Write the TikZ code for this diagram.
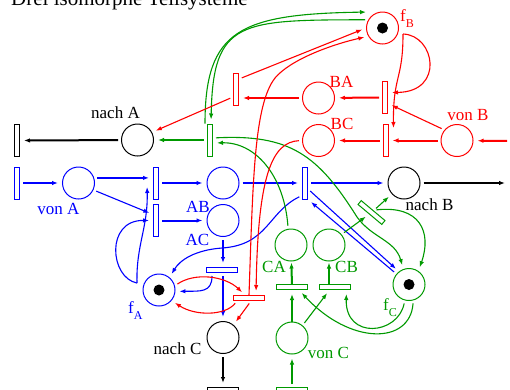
\documentclass[tikz,border=0pt]{standalone}
\usepackage{fontspec}
\setmainfont{Liberation Serif}
\usepackage{tikz}
\usetikzlibrary{arrows.meta}

\definecolor{gruen}{RGB}{0,153,0}
\newcommand{\fsub}[1]{f\raisebox{-6pt}{\fontsize{12}{12}\selectfont #1}}

\begin{document}
\begin{tikzpicture}[x=1pt,y=-1pt,
    stelle/.style={circle,draw,line width=1pt,minimum size=32pt,inner sep=0pt},
    marke/.style={circle,fill=black,inner sep=0pt,minimum size=11pt},
    tv/.style={rectangle,draw,fill=white,line width=1pt,minimum width=5pt,minimum height=32pt,inner sep=0pt},
    th/.style={rectangle,draw,fill=white,line width=1pt,minimum width=31pt,minimum height=5pt,inner sep=0pt},
    pf/.style={-{Latex[length=6pt,width=4.5pt]},line width=1.1pt,shorten >=4pt,shorten <=3pt},
    pfd/.style={pf,line width=2pt},
    txt/.style={anchor=base,font=\fontsize{17}{19}\selectfont,inner sep=0pt}]
      \useasboundingbox (0,0) rectangle (510,389);

      % タイトル
      \node[anchor=base west,font=\fontsize{21}{24}\selectfont,inner sep=0pt] (titel) at (11,5) {Drei isomorphe Teilsysteme};

      % 黒
      \node[tv] (tSA) at (17,140.5) {};
      \node[stelle] (nachA) at (137.5,140) {};
      \node[stelle] (nachB) at (404,183) {};
      \node[stelle] (nachC) at (223,337.5) {};
      \node[th] (tEB) at (223,390) {};
      \coordinate (ausB) at (509,183);

      % 青
      \node[tv,draw=blue] (tvA) at (17,183) {};
      \node[stelle,draw=blue] (vonA) at (78.5,183) {};
      \node[tv,draw=blue] (tAB) at (156,183) {};
      \node[tv,draw=blue] (tAC) at (156,220.5) {};
      \node[stelle,draw=blue] (AB) at (223,183) {};
      \node[stelle,draw=blue] (AC) at (223,220.5) {};
      \node[tv,draw=blue] (tB) at (305,183) {};
      \node[th,draw=blue] (tCb) at (222,270) {};
      \node[stelle,draw=blue] (fA) at (159,290) {};
      \node[marke] (mA) at (fA) {};
      \coordinate (fAaus) at (137,283);

      % 赤
      \node[stelle,draw=red] (fB) at (382.5,28) {};
      \node[marke] (mB) at (fB) {};
      \node[stelle,draw=red] (vonB) at (457,140.5) {};
      \node[tv,draw=red] (tBA) at (385,97.5) {};
      \node[tv,draw=red] (tBC) at (385.5,140.5) {};
      \node[stelle,draw=red] (BA) at (318.5,98) {};
      \node[stelle,draw=red] (BC) at (318.5,140.5) {};
      \node[tv,draw=red] (tAr) at (236,89.5) {};
      \node[th,draw=red] (tCr) at (249,298) {};
      \coordinate (einB) at (510,141);
      \coordinate (fBaus) at (403,34);

      % 緑
      \node[tv,draw=gruen] (tAg) at (210,140) {};
      \node[stelle,draw=gruen] (CA) at (291,245) {};
      \node[stelle,draw=gruen] (CB) at (329,245) {};
      \node[th,draw=gruen] (tCA) at (292,287) {};
      \node[th,draw=gruen] (tCB) at (334.5,287) {};
      \node[stelle,draw=gruen] (vonC) at (292,338) {};
      \node[th,draw=gruen] (tvC) at (292,390) {};
      \node[th,draw=gruen,rotate=-40] (tBg) at (371.5,212.5) {};
      \node[stelle,draw=gruen] (fC) at (409,284.5) {};
      \node[marke] (mC) at (fC) {};

      % 黒の矢印
      \draw[pfd] (nachA) -- (tSA);
      \draw[pfd] (nachB) -- (ausB);
      \draw[pfd] (nachC) -- (tEB);

      % 青の矢印
      \draw[pfd,blue] (tvA) -- (vonA);
      \draw[pfd,blue] (vonA.18) -- (vonA.18 -| tAB.west);
      \draw[pf,blue] (vonA.-25) -- ([yshift=6pt]tAC.west);
      \draw[pfd,blue] (tAB) -- (AB);
      \draw[pfd,blue] (tAC) -- (AC);
      \draw[pfd,blue] (AB) -- (tB);
      \draw[pfd,blue] (tB) -- (nachB);
      \draw[pfd,blue] (AC) -- (AC |- tCb.north);
      \draw[pfd,blue] (tCb.south -| nachC) -- (nachC);
      \draw[pf,blue] ([xshift=-10pt]tCb.south) .. controls (212,293) and (200,291) .. (fA.-5);
      \draw[pf,blue,shorten <=0pt] (fAaus) .. controls (136,245) and (148,228) .. ([xshift=-6pt]tAB.west);
      \draw[pf,blue,shorten <=0pt] (fAaus) .. controls (110,278) and (105,220) .. (tAC.west);
      \draw[pf,blue] ([yshift=4pt]tB.south west) .. controls (268,212) and (268,245) .. (222,248)
            .. controls (195,250) and (180,260) .. (fA.50);
      \draw[pf,blue] ([yshift=-6pt]tB.east) -- (fC.128);
      \draw[pf,blue] (fC.140) -- (tB.south east);

      % 緑の矢印
      \draw[pfd,gruen] (tAg) -- (nachA);
      \draw[pf,gruen,shorten <=0pt] ([xshift=-2pt]tAg.north west) .. controls (205,30) and (240,14) .. ([xshift=4pt,yshift=16pt]fB.west);
      \draw[pf,gruen] (fB.150) .. controls (240,20) and (213,20) .. ([xshift=1pt]tAg.north);
      \draw[pf,gruen] (CA.100) .. controls (284,175) and (255,142) .. ([yshift=-3pt]tAg.east);
      \draw[pf,gruen] ([yshift=2pt]tAg.east) .. controls (290,134) and (318,155) .. (357,217)
            .. controls (372,238) and (395,240) .. (fC.110);
      \draw[pf,gruen] (CB.40) -- (tBg);
      \draw[pf,gruen] (tBg) -- (nachB);
      \draw[pf,gruen] (tBg.north) .. controls (420,205) and (432,232) .. (fC.55);
      \draw[pf,gruen,shorten <=0pt] (vonC) -- (tCA);
      \draw[pf,gruen] (vonC.50) -- ([xshift=-5pt]tCB.south);
      \draw[pfd,gruen,shorten <=0pt,shorten >=1pt] (tCA) -- (CA);
      \draw[pfd,gruen,shorten <=0pt,shorten >=1pt] (CB |- tCB.north) -- (CB);
      \draw[pf,gruen] (fC.-75) .. controls (410,345) and (350,345) .. ([xshift=-9pt]tCA.south east);
      \draw[pf,gruen] (fC.-105) .. controls (398,335) and (345,340) .. ([xshift=-4pt]tCB.south east);
      \draw[pfd,gruen] (tvC) -- (vonC);

      % 赤の矢印
      \draw[pfd,red] (einB) -- (vonB);
      \draw[pfd,red] (vonB) -- (tBC);
      \draw[pf,red] (vonB.140) -- ([yshift=-6pt]tBA.east);
      \draw[pfd,red] (tBA) -- (BA);
      \draw[pfd,red] (tBC) -- (BC);
      \draw[pf,red,shorten <=0pt] (fBaus) .. controls (435,35) and (445,92) .. ([yshift=5pt]tBA.east);
      \draw[pf,red,shorten <=0pt] (fBaus) .. controls (403,80) and (393,75) .. ([xshift=5pt,yshift=-8pt]tBC.north east);
      \draw[pfd,red] (BA.west) -- (BA.west -| tAr.east);
      \draw[pf,red] ([yshift=-6pt]tAr.north east) -- (fB.west);
      \draw[pf,red] ([yshift=-7.5pt]tAr.west) -- (nachA.28);
      \draw[pf,red,shorten <=0pt] (tCr.north) .. controls (253,180) and (254,105) .. (275,78)
            .. controls (290,60) and (330,45) .. (fB.210);
      \draw[pf,red] (BC.west) .. controls (272,142) and (258,175) .. ([xshift=7pt]tCr.north);
      \draw[pf,red] ([xshift=2pt]tCr.south) -- (nachC.50);
      \draw[pf,red] (fA.15) .. controls (195,272) and (225,276) .. ([xshift=12pt]tCr.north west);
      \draw[pf,red] ([xshift=4pt]tCr.south west) .. controls (225,316) and (195,316) .. (fA.-40);

      % ラベル
      \node[txt] (lnachA) at (115.5,118) {nach A};
      \node[txt] (lnachB) at (429.5,210.5) {nach B};
      \node[txt] (lnachC) at (177.5,354.5) {nach C};
      \node[txt,blue] (lvonA) at (58.5,214) {von A};
      \node[txt,blue] (lAB) at (198,212.5) {AB};
      \node[txt,blue] (lAC) at (197.5,245.5) {AC};
      \node[txt,blue,anchor=base west] (lfA) at (128,313) {\fsub{A}};
      \node[txt,red,anchor=base west] (lfB) at (400,21.5) {\fsub{B}};
      \node[txt,red] (lvonB) at (468,120) {von B};
      \node[txt,red] (lBA) at (341.5,87.5) {BA};
      \node[txt,red] (lBC) at (342,129.5) {BC};
      \node[txt,gruen] (lCA) at (274,272) {CA};
      \node[txt,gruen] (lCB) at (346.5,272) {CB};
      \node[txt,gruen] (lvonC) at (328.5,358) {von C};
      \node[txt,gruen,anchor=base west] (lfC) at (383,310) {\fsub{C}};
\end{tikzpicture}
\end{document}
